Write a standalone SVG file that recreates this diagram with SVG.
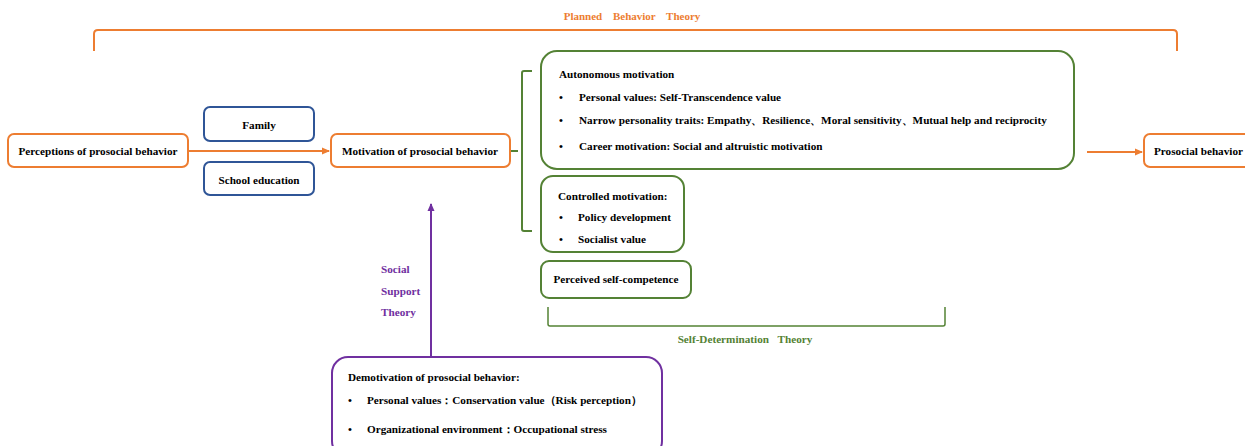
<svg xmlns="http://www.w3.org/2000/svg" width="1245" height="446" viewBox="0 0 1245 446">
<style>
text{font-family:"Liberation Serif","Times New Roman",serif;font-weight:bold;font-size:11.2px;fill:#000}
.box{fill:#fff;stroke-width:2}
.or{stroke:#ED7D31}
.bl{stroke:#2F5597}
.gr{stroke:#548235}
.pu{stroke:#7030A0}
.ln{fill:none;stroke-width:2}
.c{text-anchor:middle}
</style>
<defs>
<marker id="ao" markerWidth="8" markerHeight="8" refX="7" refY="4" orient="auto" markerUnits="userSpaceOnUse"><path d="M0,0.5 L8,4 L0,7.5 z" fill="#ED7D31"/></marker>
<marker id="ap" markerWidth="8" markerHeight="8" refX="7" refY="4" orient="auto" markerUnits="userSpaceOnUse"><path d="M0,0.5 L8,4 L0,7.5 z" fill="#7030A0"/></marker>
</defs>

<g id="planned-behavior-theory">
<path class="ln or" d="M94,51 L94,34 Q94,30 98,30 L1173,30 Q1177,30 1177,34 L1177,51"/>
<text x="632" y="20" class="c" style="fill:#ED7D31;font-size:11px" word-spacing="8">Planned Behavior Theory</text>
</g>

<g id="connectors">
<line class="ln or" x1="188" y1="151" x2="329" y2="151" marker-end="url(#ao)"/>
<line class="ln or" x1="1087" y1="152" x2="1142" y2="152" marker-end="url(#ao)"/>
<line class="ln pu" x1="431" y1="357" x2="431" y2="204" marker-end="url(#ap)"/>
<path class="ln gr" d="M510,151 L518,151 M532,71 L524,71 Q522,71 522,73 L522,229 Q522,231 524,231 L532,231"/>
</g>

<g id="perceptions">
<rect class="box or" x="8" y="134" width="180" height="33" rx="6"/>
<text x="98" y="155" class="c">Perceptions of prosocial behavior</text>
</g>

<g id="family">
<rect class="box bl" x="204" y="107" width="110" height="34" rx="6"/>
<text x="259" y="129" class="c">Family</text>
</g>

<g id="school-education">
<rect class="box bl" x="204" y="162" width="110" height="33" rx="6"/>
<text x="259" y="184" class="c">School education</text>
</g>

<g id="motivation">
<rect class="box or" x="331" y="134" width="179" height="33" rx="6"/>
<text x="420" y="155" class="c">Motivation of prosocial behavior</text>
</g>

<g id="autonomous-motivation">
<rect class="box gr" x="541" y="51" width="533" height="118" rx="16"/>
<text x="559" y="78">Autonomous motivation</text>
<text x="559" y="101">•</text><text x="579" y="101">Personal values: Self-Transcendence value</text>
<text x="559" y="124">•</text><text x="579" y="124">Narrow personality traits: Empathy、Resilience、Moral sensitivity、Mutual help and reciprocity</text>
<text x="559" y="150">•</text><text x="579" y="150">Career motivation: Social and altruistic motivation</text>
</g>

<g id="controlled-motivation">
<rect class="box gr" x="541" y="176" width="143" height="76" rx="12"/>
<text x="558" y="200">Controlled motivation:</text>
<text x="559" y="221">•</text><text x="578" y="221">Policy development</text>
<text x="559" y="243">•</text><text x="578" y="243">Socialist value</text>
</g>

<g id="perceived-self-competence">
<rect class="box gr" x="541" y="261" width="150" height="37" rx="8"/>
<text x="616" y="283" class="c">Perceived self-competence</text>
</g>

<g id="self-determination-theory">
<path class="ln gr" d="M548,307 L548,324 Q548,326 550,326 L943,326 Q945,326 945,324 L945,307" style="stroke-width:1.5"/>
<text x="745" y="343" class="c" style="fill:#548235" word-spacing="6">Self-Determination Theory</text>
</g>

<g id="prosocial-behavior">
<rect class="box or" x="1144" y="134" width="110" height="33" rx="6"/>
<text x="1154" y="155">Prosocial behavior</text>
</g>

<g id="social-support-theory">
<text x="381" y="273" style="fill:#7030A0">Social</text>
<text x="381" y="295" style="fill:#7030A0">Support</text>
<text x="381" y="316" style="fill:#7030A0">Theory</text>
</g>

<g id="demotivation">
<rect class="box pu" x="332" y="357" width="330" height="100" rx="16"/>
<text x="348" y="381">Demotivation of prosocial behavior:</text>
<text x="348" y="404">•</text><text x="367" y="404">Personal values：Conservation value（Risk perception）</text>
<text x="348" y="433">•</text><text x="367" y="433">Organizational environment：Occupational stress</text>
</g>
</svg>
